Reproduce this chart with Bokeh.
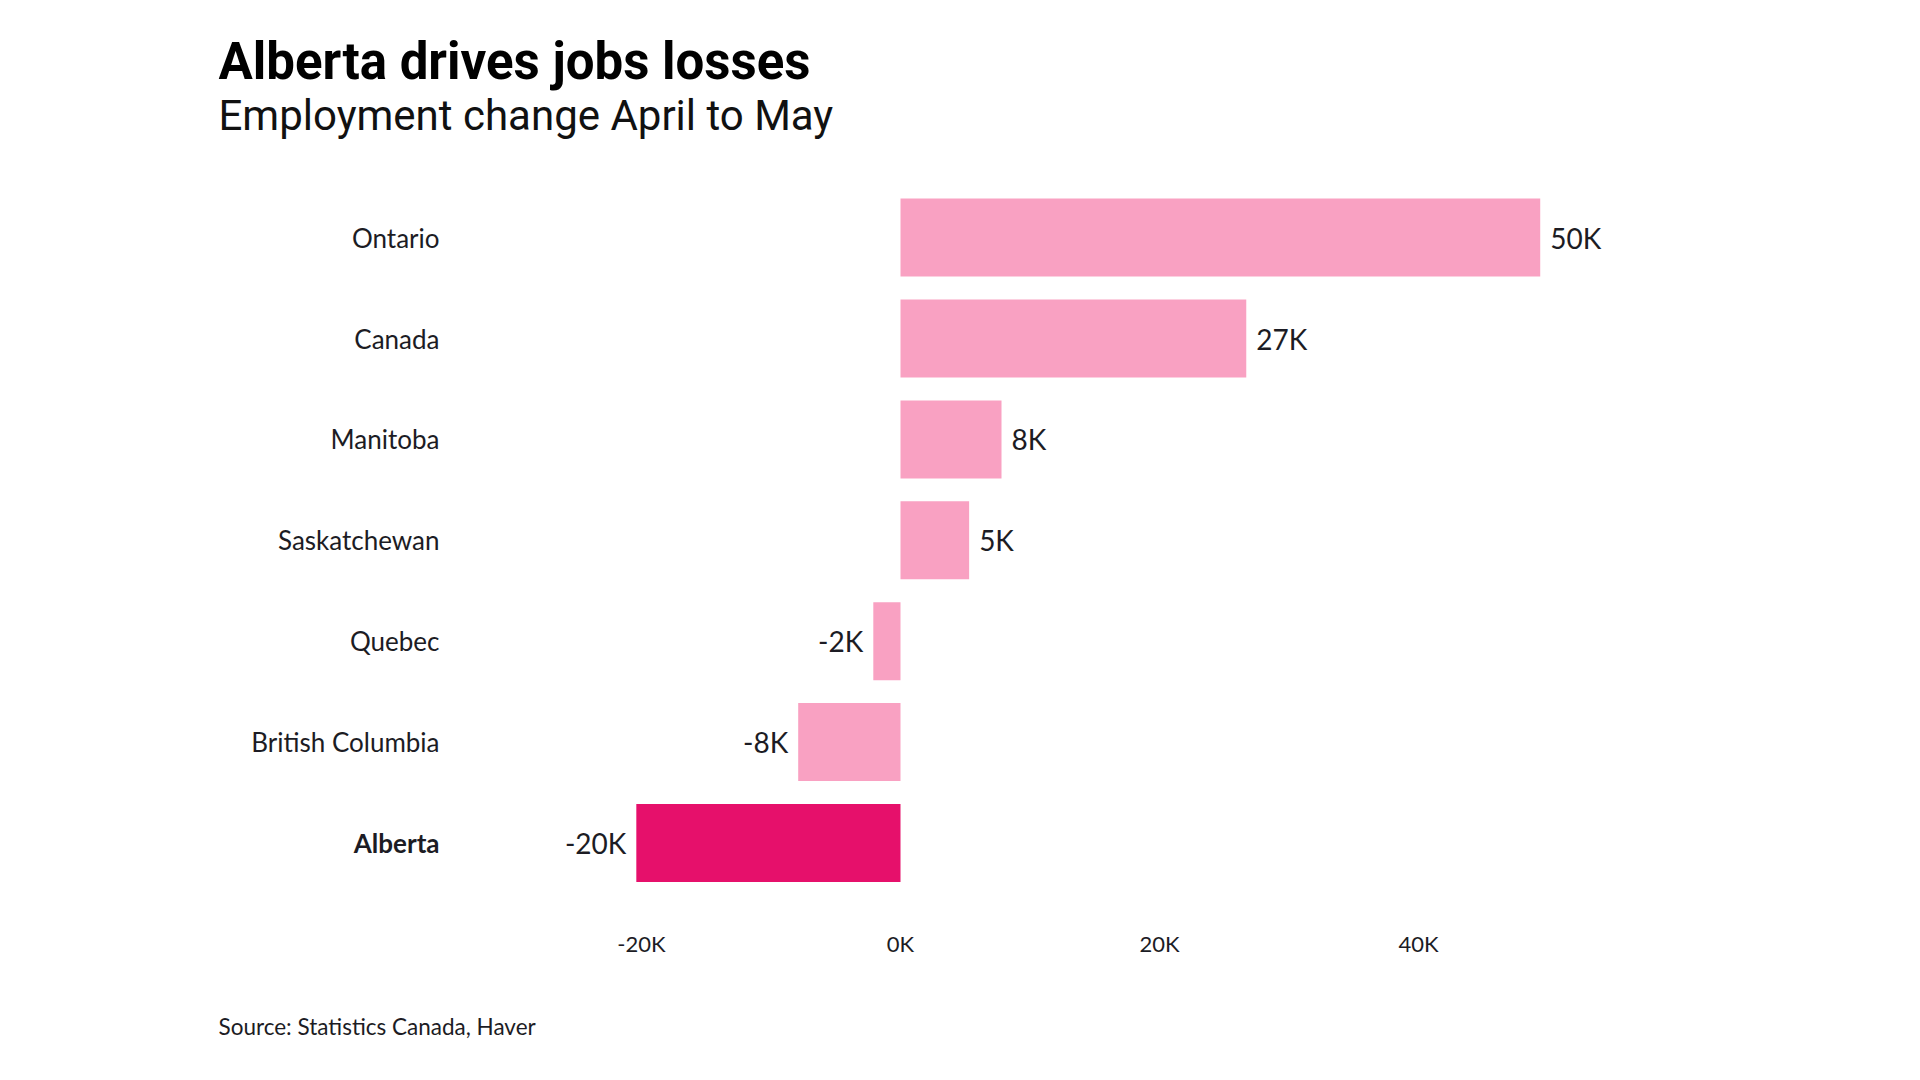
from bokeh.plotting import figure
from bokeh.layouts import column
from bokeh.models import ColumnDataSource, Range1d, FixedTicker
from bokeh.core.properties import value
from bokeh.embed import file_html
from bokeh.resources import INLINE

# ---- data ----
regions = ["Ontario", "Canada", "Manitoba", "Saskatchewan", "Quebec",
           "British Columbia", "Alberta"]
change_k = [49.4, 26.7, 7.8, 5.3, -2.1, -7.9, -20.4]
value_labels = ["50K", "27K", "8K", "5K", "-2K", "-8K", "-20K"]
tick_values = [-20, 0, 20, 40]
tick_labels = ["-20K", "0K", "20K", "40K"]
highlight = "Alberta"

TITLE = "Alberta drives jobs losses"
SUBTITLE = "Employment change April to May"
SOURCE = "Source: Statistics Canada, Haver"

# ---- layout constants (canvas pixels) ----
W = 1904
H_MAIN, H_FOOT = 1000, 64
FRAME_L, FRAME_R = 218, 1712
FRAME_T, FRAME_B = 0, 922
ZERO_SX = 900.0
PX_PER_K = 12.95
ROW0_SY = 842.5      # centre of the bottom row
ROW_STEP = 100.9
LABEL_RIGHT_SX = 439
TITLE_MID_SY = 61.0
SUB_MID_SY = 114.5
SOURCE_MID_SY = 26.0   # inside the footer strip

x_start = (FRAME_L - ZERO_SX) / PX_PER_K
x_end = (FRAME_R - ZERO_SX) / PX_PER_K
y_start = (ROW0_SY - FRAME_B) / ROW_STEP
y_end = (ROW0_SY - FRAME_T) / ROW_STEP
label_x = (LABEL_RIGHT_SX - ZERO_SX) / PX_PER_K
title_y = (ROW0_SY - TITLE_MID_SY) / ROW_STEP
sub_y = (ROW0_SY - SUB_MID_SY) / ROW_STEP

LIGHT = "#F9A1C2"
DARK = "#E6106B"
TEXT = "#1c1c24"

n = len(regions)
ys = [n - 1 - i for i in range(n)]
colors = [DARK if r == highlight else LIGHT for r in regions]
styles = ["bold" if r == highlight else "normal" for r in regions]

src = ColumnDataSource(dict(y=ys, v=change_k, region=regions, color=colors,
                            style=styles, lab=value_labels))
pos = [i for i, v in enumerate(change_k) if v >= 0]
neg = [i for i, v in enumerate(change_k) if v < 0]
src_pos = ColumnDataSource(dict(y=[ys[i] for i in pos], v=[change_k[i] for i in pos],
                                lab=[value_labels[i] for i in pos]))
src_neg = ColumnDataSource(dict(y=[ys[i] for i in neg], v=[change_k[i] for i in neg],
                                lab=[value_labels[i] for i in neg]))

xr = Range1d(x_start, x_end)
p = figure(width=W, height=H_MAIN, output_backend="svg", toolbar_location=None,
           title_location=None, y_axis_location=None,
           x_range=xr, y_range=Range1d(y_start, y_end),
           min_border_left=FRAME_L, min_border_right=W - FRAME_R,
           min_border_top=FRAME_T, min_border_bottom=H_MAIN - FRAME_B)
p.outline_line_color = None
p.xgrid.visible = False
p.ygrid.visible = False
p.background_fill_color = "white"
p.border_fill_color = "white"

p.hbar(y="y", left=0, right="v", height=0.773, fill_color="color",
       line_color=None, source=src)

p.text(x=label_x, y="y", text="region", text_align="right", text_baseline="middle",
       text_font=value("Lato"), text_font_size="26px", text_font_style="style",
       text_color=TEXT, source=src)

p.text(x="v", y="y", text="lab", x_offset=10, text_align="left", text_baseline="middle",
       text_font=value("Lato"), text_font_size="28px", text_color=TEXT, source=src_pos)
p.text(x="v", y="y", text="lab", x_offset=-10, text_align="right", text_baseline="middle",
       text_font=value("Lato"), text_font_size="28px", text_color=TEXT, source=src_neg)

# heading
p.text(x=[x_start], y=[title_y], text=[TITLE], text_align="left",
       text_baseline="middle", text_font=value("Roboto"), text_font_size="51px",
       text_font_style="bold", text_color="#000000")
p.text(x=[x_start], y=[sub_y], text=[SUBTITLE], text_align="left",
       text_baseline="middle", text_font=value("Roboto"), text_font_size="42px",
       text_font_style="normal", text_color="#111111")

ax = p.xaxis[0]
ax.ticker = FixedTicker(ticks=tick_values)
ax.major_label_overrides = {t: l for t, l in zip(tick_values, tick_labels)}
ax.axis_line_color = None
ax.major_tick_line_color = None
ax.minor_tick_line_color = None
ax.major_label_text_font = "Lato"
ax.major_label_text_font_size = "22px"
ax.major_label_text_color = TEXT
ax.major_label_standoff = 1

# footer strip with the source note, sharing the main x scale
foot = figure(width=W, height=H_FOOT, output_backend="svg", toolbar_location=None,
              title_location=None, x_axis_location=None, y_axis_location=None,
              x_range=xr, y_range=Range1d(H_FOOT, 0),
              min_border_left=FRAME_L, min_border_right=W - FRAME_R,
              min_border_top=0, min_border_bottom=0)
foot.outline_line_color = None
foot.xgrid.visible = False
foot.ygrid.visible = False
foot.background_fill_color = "white"
foot.border_fill_color = "white"
foot.text(x=[x_start], y=[SOURCE_MID_SY], text=[SOURCE], text_align="left",
          text_baseline="middle", text_font=value("Lato"), text_font_size="22.5px",
          text_color=TEXT)

layout = column(p, foot, spacing=0)
open("out.html", "w").write(file_html(layout, INLINE))
